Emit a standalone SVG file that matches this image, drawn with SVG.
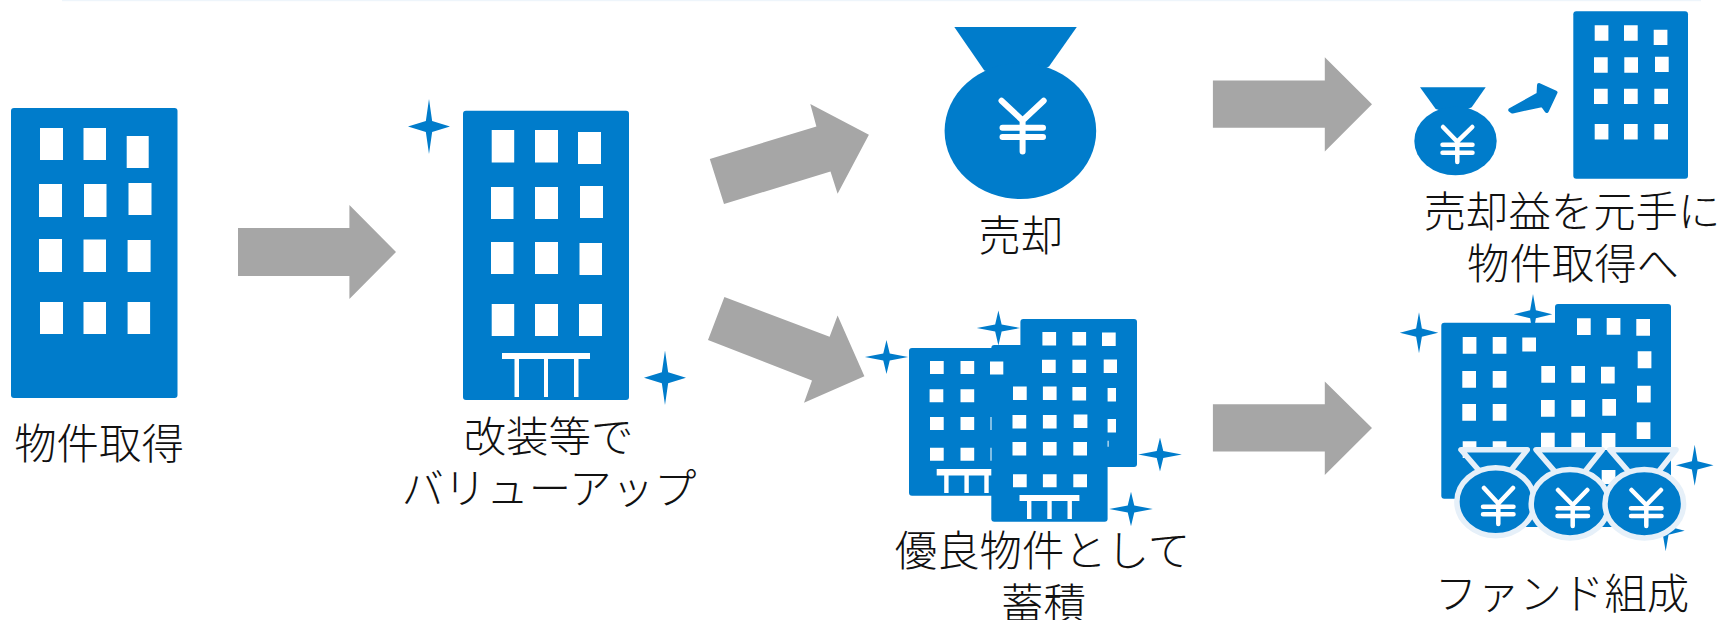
<svg xmlns="http://www.w3.org/2000/svg" width="1721" height="620" viewBox="0 0 1721 620">
<style>
.b{fill:#007ccb}
.w{fill:#fff}
.a{fill:#a6a6a6}
.y{fill:none;stroke:#fff;stroke-linecap:round;stroke-linejoin:round}
.t{font-family:"Noto Sans CJK JP","Noto Sans CJK SC",sans-serif;font-weight:300;font-size:42.400px;fill:#111;text-anchor:middle}
.r{fill:#007ccb;stroke:#e6f0f9;stroke-width:5.500;stroke-linejoin:round}
</style>
<defs>
<path id="s" d="M0-1 L.15-.2 L1 0 L.15 .2 L0 1 L-.15 .2 L-1 0 L-.15-.2Z"/>
</defs>
<rect x="62" y="0" width="1639" height="1.2" fill="#eef5fb"/>
<g id="connectors">
<path class="a" d="M238 228H349.4V205L396 252L349.4 299V276H238Z"/>
<path class="a" d="M709.8 159L816.4 126.5L810.3 104L868.9 134.8L837.6 193.7L830.5 171.5L724 204Z"/>
<path class="a" d="M724.4 297L829.6 336.8L837.6 315.4L864.4 376.3L804 402.8L812 380.6L708 340Z"/>
<path class="a" d="M1212.9 80.6H1324.8V57.3L1372 104.3L1324.8 151.4V127.7H1212.9Z"/>
<path class="a" d="M1212.9 404.3H1324.8V381.4L1372 428L1324.8 475V451.4H1212.9Z"/>
</g>
<g id="node-acquire">
<rect class="b" x="11" y="108" width="166.500" height="290" rx="3"/>
<path class="w" d="M40 128h23v32h-23zM83.500 128h22.500v32h-22.500zM126.700 136h22v32h-22zM39 184h23v33h-23zM84 184h22.500v33h-22.500zM128.500 183h23v32h-23zM39 239h23v33h-23zM83.500 239.500h22.500v32.500h-22.500zM127.600 240h23v32h-23zM40 302h23v32h-23zM83.500 302h22.500v32h-22.500zM127.600 302h22.500v32h-22.500z"/>
<text class="t" x="99" y="458.500">物件取得</text>
</g>
<g id="node-valueup">
<use href="#s" class="b" transform="translate(429 126.500) scale(21 27.500)"/>
<use href="#s" class="b" transform="translate(665 377.800) scale(21 27.200)"/>
<rect class="b" x="463" y="110.700" width="166" height="289.300" rx="3"/>
<path class="w" d="M491.700 130h22.500v32.500h-22.500zM535 130h23v32.500h-23zM578 132h23v32h-23zM491 187h22.500v32h-22.500zM535 187h23v32h-23zM580 186h23v32h-23zM491 242h22.500v32h-22.500zM535 242h23v32h-23zM579.500 243h22.500v32h-22.500zM491.700 304h22.500v32h-22.500zM535 304h23v32h-23zM579 304h23v32h-23zM502 353h88v6h-88zM514.500 359h4.500v38h-4.500zM544 359h4v38h-4zM574 359h4.500v38h-4.500z"/>
<text class="t" x="548.500" y="452">改装等で</text>
<text class="t" x="549" y="504">バリューアップ</text>
</g>
<g id="node-sale">
<path class="b" d="M954.300 27H1076.800L1049 66.400L1020 80L984.300 70.400Z"/>
<ellipse class="b" cx="1020.400" cy="131" rx="75.800" ry="68"/>
<path class="y" stroke-width="6" d="M1001.500 100.800L1022.600 120.500L1043.700 100.800M1022.600 120.500V151.400M1002.500 127.700H1043M1002.500 137H1043"/>
<text class="t" x="1021" y="251">売却</text>
</g>
<g id="node-reinvest">
<path class="b" d="M1420 87.300H1485.700L1471.700 107.300L1455 115L1435.700 109Z"/>
<ellipse class="b" cx="1455.500" cy="141" rx="41.200" ry="34.300"/>
<path class="y" stroke-width="4.500" d="M1443 127L1457.300 141.700L1472.300 127M1457.300 141.700V162M1442.500 144.700H1472.500M1442.500 152.700H1472.500"/>
<path class="b" stroke="#007ccb" stroke-width="4" stroke-linejoin="round" d="M1510.300 110L1538.500 94.300L1539 85L1555.500 92.500L1546.800 111L1542.500 105L1512.500 111.500Z"/>
<rect class="b" x="1573.300" y="11.300" width="114.700" height="167.400" rx="3"/>
<path class="w" d="M1594.700 25.300h13.700v15.400h-13.700zM1624 25.300h13.700v15.400h-13.700zM1653.700 29.700h13.700v15.400h-13.700zM1594 57.300h13.700v15.400h-13.700zM1624.300 57.300h13.700v15.400h-13.700zM1655 56.700h13.700v15.400h-13.700zM1594 88.700h13.700v15.400h-13.700zM1624 88.700h13.700v15.400h-13.700zM1654.300 88.700h13.700v15.400h-13.700zM1594.700 124h13.700v15.400h-13.700zM1624 124h13.700v15.400h-13.700zM1654.300 124h13.700v15.400h-13.700z"/>
<text class="t" x="1572" y="227">売却益を元手に</text>
<text class="t" x="1573" y="279">物件取得へ</text>
</g>
<g id="node-hold">
<use href="#s" class="b" transform="translate(886.500 357) scale(21.600 17)"/>
<use href="#s" class="b" transform="translate(998.400 328) scale(21.600 17.400)"/>
<use href="#s" class="b" transform="translate(1160 454.500) scale(21.800 17)"/>
<use href="#s" class="b" transform="translate(1131 509) scale(21.800 17.200)"/>
<rect class="b" x="909" y="348" width="120" height="147.700" rx="3"/>
<rect class="b" x="1020.400" y="319" width="116.600" height="148" rx="3"/>
<rect class="b" x="991.300" y="345" width="116.300" height="176.700" rx="3"/>
<path class="w" d="M930 361h13.700v13h-13.700zM960.500 361h13.700v13h-13.700zM990 361.500h13.300v13h-13.300zM929.600 389.300h13.700v13h-13.700zM960.500 389.300h13.700v13h-13.700zM930 417h13.700v13h-13.700zM960.500 417h13.700v13h-13.700zM930 447.800h13.700v13h-13.700zM960.500 447.800h13.700v13h-13.700zM990.500 417h1v13h-1zM990.500 447.800h1v13h-1zM936.700 469h54.600v6.500h-54.600zM944.200 475.500h4.400v17.500h-4.400zM964.400 475.500h4.400v17.500h-4.400zM984.300 475.500h4.400v17.500h-4.400z"/>
<path class="w" d="M1042.400 332h13.700v13.400h-13.700zM1072.400 332h13.700v13.400h-13.700zM1102 332.500h13.700v13.400h-13.700zM1042 359.700h13.700v13.400h-13.700zM1072.400 359.700h13.700v13.400h-13.700zM1103.700 359.500h13.300v13.400h-13.300zM1013 386.600h13.700v13.400h-13.700zM1042.900 386.600h13.700v13.400h-13.700zM1072.400 387h13.700v13.400h-13.700zM1107.600 388h8.400v13.400h-8.400zM1012.500 415h13.700v13.400h-13.700zM1042.900 415h13.700v13.400h-13.700zM1073.700 414.500h13.700v13.400h-13.700zM1107.600 419h8.400v13.400h-8.400zM1012.500 442h13.700v13.400h-13.700zM1042.900 442h13.700v13.400h-13.700zM1073.300 442h13.700v13.400h-13.700zM1107.600 440.700h1v6h-1zM1013 474.300h13.700v13h-13.700zM1042.900 474.300h13.700v13h-13.700zM1073.300 474.300h13.700v13h-13.700zM1019.500 495h59.900v6h-59.900zM1027 501h4.400v18h-4.400zM1047.300 501h4.400v18h-4.400zM1067.500 501h4.400v18h-4.400z"/>
<text class="t" x="1042.500" y="566">優良物件として</text>
<text class="t" x="1043.500" y="619">蓄積</text>
</g>
<g id="node-fund">
<use href="#s" class="b" transform="translate(1419 332.700) scale(19.200 20.500)"/>
<use href="#s" class="b" transform="translate(1533 314.300) scale(19.200 20.300)"/>
<use href="#s" class="b" transform="translate(1694.700 465.300) scale(18.800 20.500)"/>
<use href="#s" class="b" transform="translate(1665.700 530.700) scale(19 20.500)"/>
<rect class="b" x="1441.300" y="322.700" width="120" height="176" rx="3"/>
<rect class="b" x="1555" y="304" width="116" height="178" rx="3"/>
<rect class="b" x="1521" y="340" width="118" height="187" rx="3"/>
<path class="w" d="M1462.700 337h13.700v16.700h-13.700zM1492.700 337h13.700v16.700h-13.700zM1522.300 337.500h13.700v14h-13.700zM1462.300 371h13.700v16.700h-13.700zM1492.700 371h13.700v16.700h-13.700zM1462.300 404h13.700v16.700h-13.700zM1492.700 404h13.700v16.700h-13.700zM1462.700 441.300h13.700v16.700h-13.700zM1492.700 441.300h13.700v16.700h-13.700zM1577 318.300h13.700v16.700h-13.700zM1606.700 318h13.700v16.700h-13.700zM1636.300 319h13.700v16.700h-13.700zM1637.700 351.300h13.700v17h-13.700zM1541.300 366h13.700v16.700h-13.700zM1571.300 366h13.700v16.700h-13.700zM1601 366.700h13.700v16.700h-13.700zM1637 385.700h13.700v16.700h-13.700zM1541 400h13.700v16.700h-13.700zM1571.300 400h13.700v16.700h-13.700zM1602.300 399h13.700v16.700h-13.700zM1636.700 422.300h13.700v16.700h-13.700zM1541 432.700h13.700v17h-13.700zM1571.300 432.700h13.700v17h-13.700zM1601.700 433h13.700v17h-13.700zM1601.700 470h13.700v14h-13.700z"/>
<g id="fund-bag-1">
<path class="r" d="M1461 449.700H1527.300L1508 474H1482Z"/>
<ellipse class="r" cx="1495.700" cy="501.700" rx="38.800" ry="34"/>
<path class="y" stroke-width="4.500" d="M1484 488L1498.300 503.500L1513 488M1498.300 503.500V524M1483 506.700H1513.500M1483 514.300H1513.500"/>
</g>
<g id="fund-bag-2">
<path class="r" d="M1536 449.700H1602.300L1583 474H1557Z"/>
<ellipse class="r" cx="1570" cy="503.700" rx="38.800" ry="34.200"/>
<path class="y" stroke-width="4.500" d="M1558 490L1572.700 505L1587.300 490M1572.700 505V526M1557.500 508.300H1588M1557.500 516H1588"/>
</g>
<g id="fund-bag-3">
<path class="r" d="M1609.700 449.700H1676L1656.700 474H1630.700Z"/>
<ellipse class="r" cx="1644.300" cy="503.700" rx="39.300" ry="34.200"/>
<path class="y" stroke-width="4.500" d="M1631.500 490L1646.300 505L1661 490M1646.300 505V526M1631 508.300H1661.500M1631 516H1661.500"/>
</g>
<text class="t" x="1562" y="609">ファンド組成</text>
</g>
</svg>
